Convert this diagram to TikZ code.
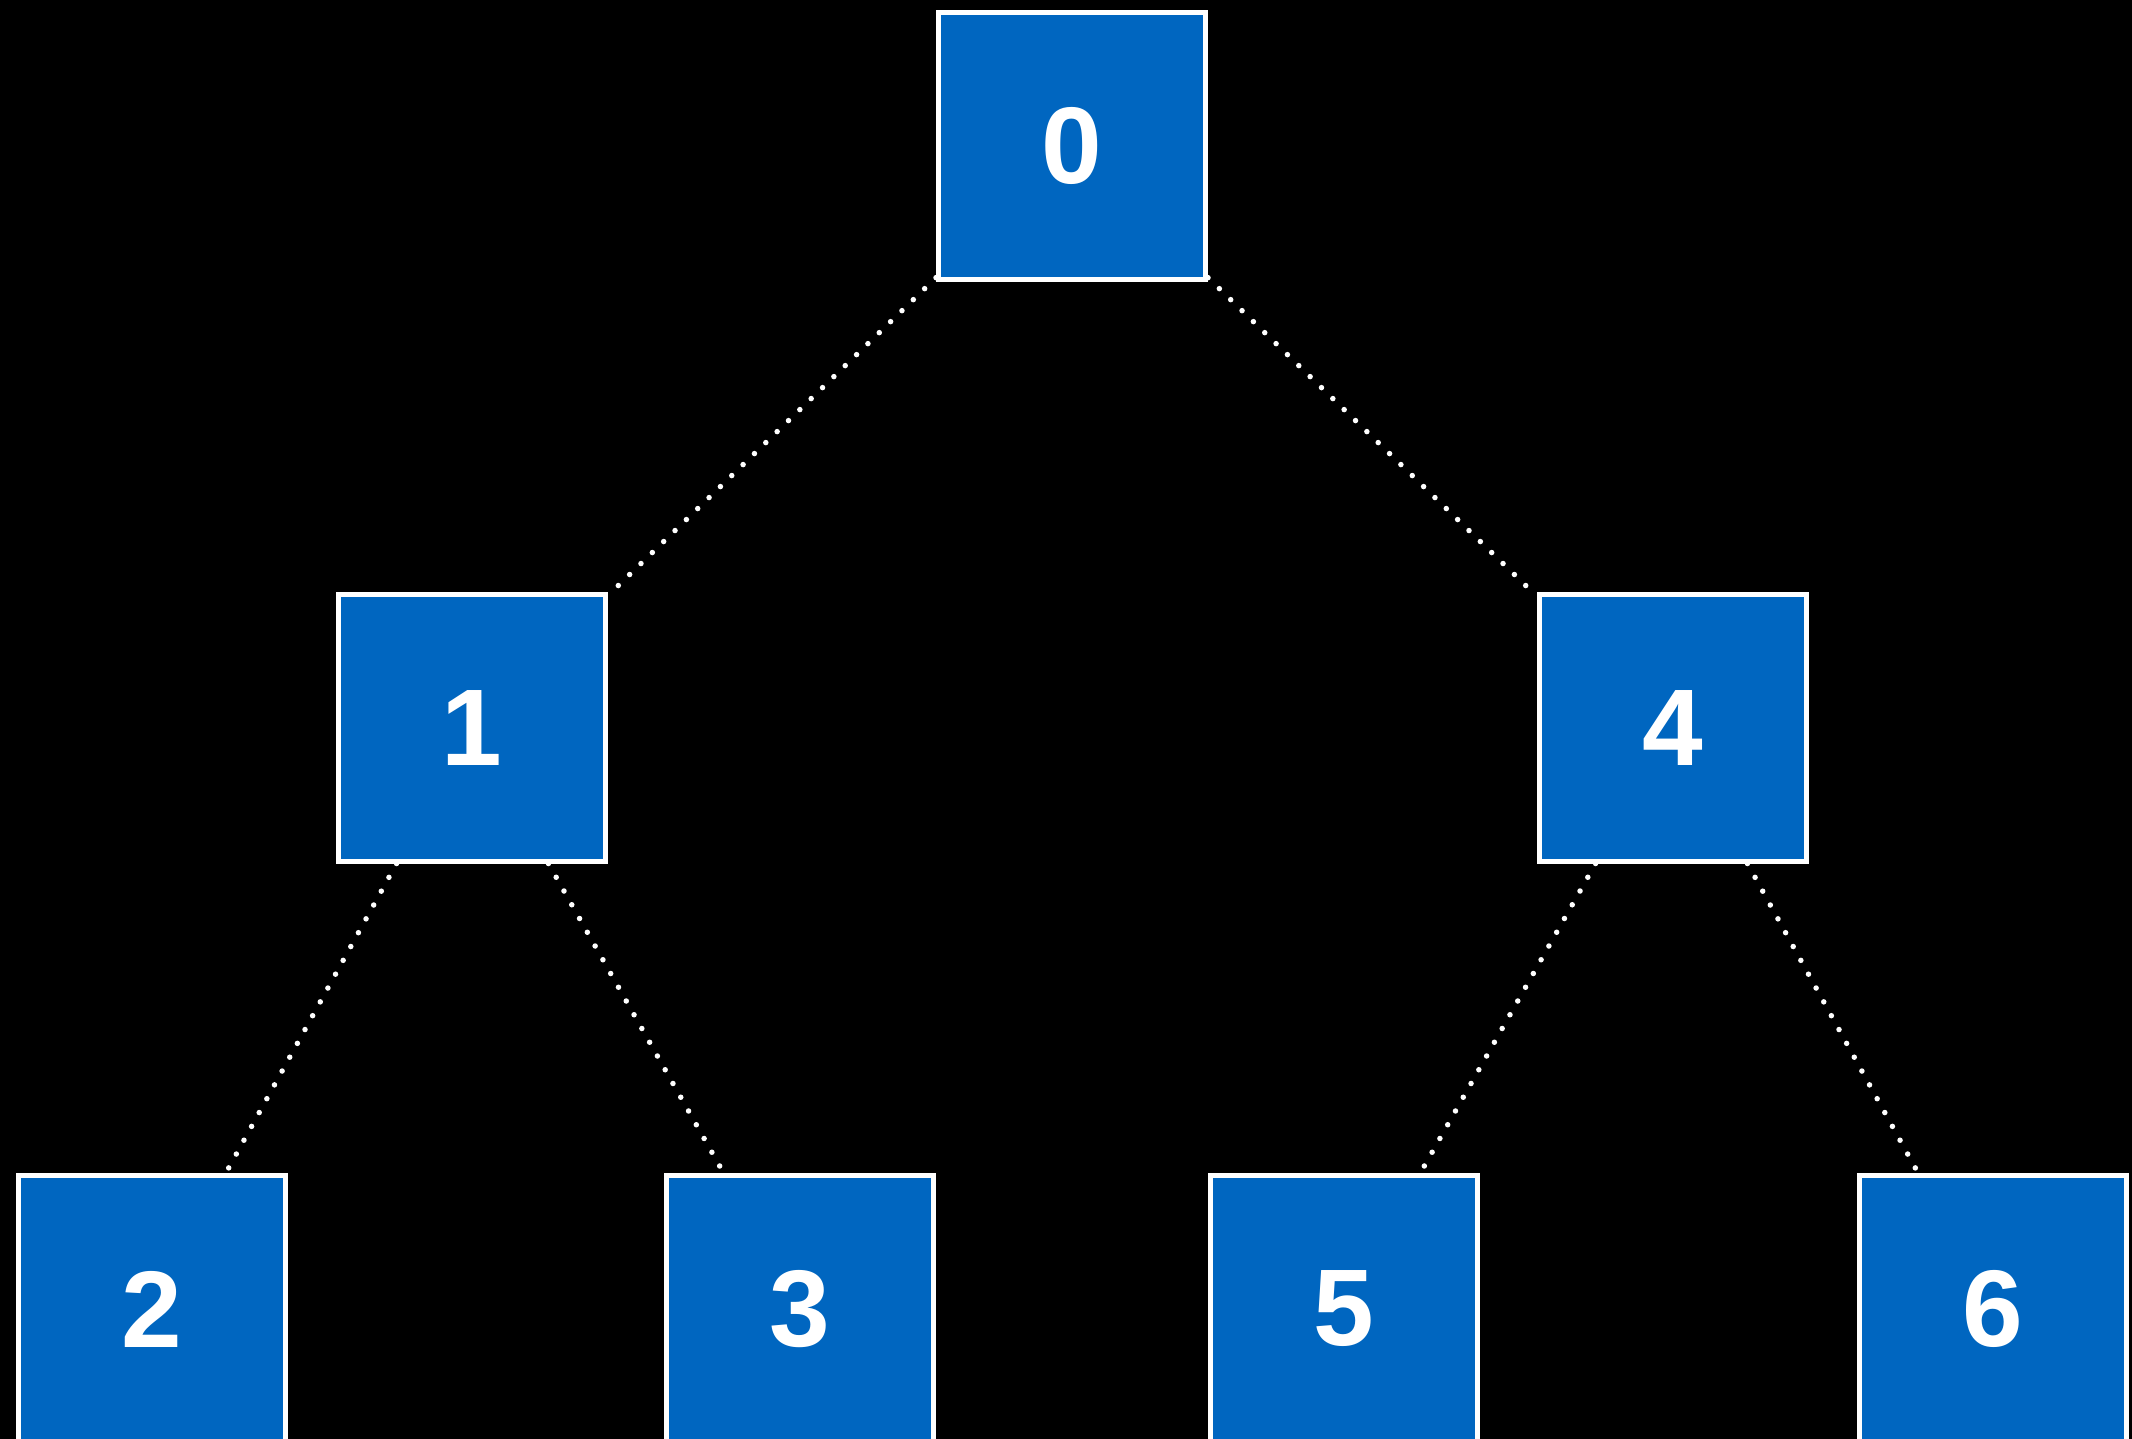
\documentclass[tikz,border=0pt]{standalone}
\usepackage{fontspec}
\setmainfont{Liberation Sans}
\definecolor{boxblue}{RGB}{0,102,192}
\tikzset{
  treebox/.style={draw=white, fill=boxblue, line width=5pt, inner sep=0pt,
    minimum width=267pt, minimum height=267pt,
    text=white, font=\fontsize{109}{120}\selectfont\bfseries},
  treelink/.style={draw=white, line width=5.5pt, line cap=round,
    dash pattern=on 0pt off 15.8pt},
}
\begin{document}
\begin{tikzpicture}[x=1pt, y=-1pt]
  \useasboundingbox (0,0) rectangle (2132,1439);
  \clip (0,0) rectangle (2132,1439);
  \fill[black] (0,0) rectangle (2132,1439);

  % tree nodes
  \node[treebox] (n0) at (1072,146) {0};
  \node[treebox] (n1) at (471.5,727.5) {1};
  \node[treebox] (n4) at (1672.5,727.5) {4};
  \node[treebox] (n2) at (151.5,1309) {2};
  \node[treebox] (n3) at (800,1309) {3};
  \node[treebox] (n5) at (1344,1309) {5};
  \node[treebox] (n6) at (1992.5,1309) {6};

  % dotted parent-child links
  \draw[treelink] (n0) -- (n1);
  \draw[treelink] (n0) -- (n4);
  \draw[treelink] (n1) -- (n2);
  \draw[treelink] (n1) -- (n3);
  \draw[treelink] (n4) -- (n5);
  \draw[treelink] (n4) -- (n6);
\end{tikzpicture}
\end{document}
